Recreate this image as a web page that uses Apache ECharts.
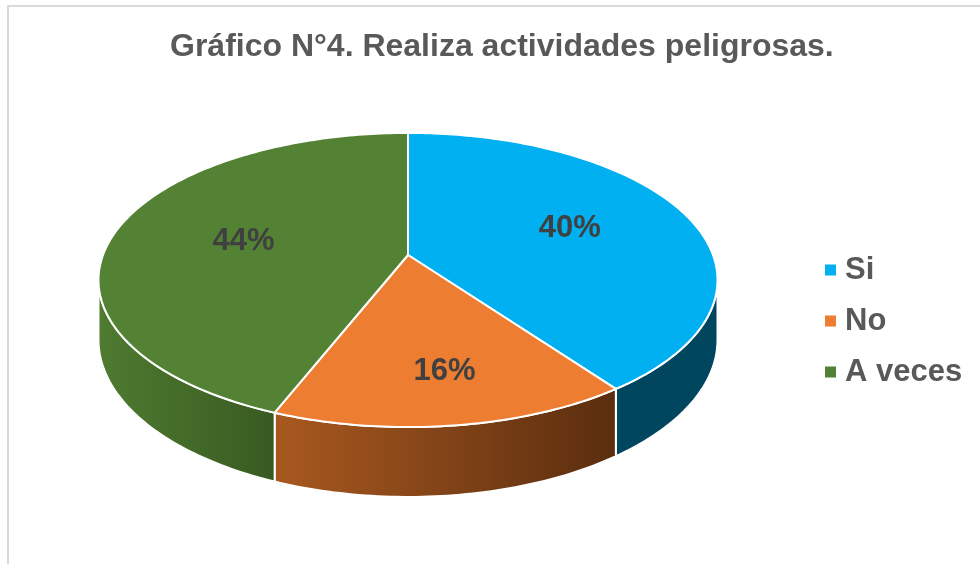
<!DOCTYPE html>
<html>
<head>
<meta charset="utf-8">
<title>Gráfico N°4</title>
<script src="https://cdn.jsdelivr.net/npm/echarts@6/dist/echarts.min.js"></script>
<style>
  html, body { margin: 0; padding: 0; background: #fff; }
  #chart { width: 980px; height: 564px; }
</style>
</head>
<body>
<div id="chart"></div>
<script>
  // datos del gráfico
  const categories = ['Si', 'No', 'A veces'];
  const values = [40, 16, 44];
  const topColors = ['#00B0F0', '#ED7D31', '#548235'];
  const sideColors = [['#00465F', '#00465F'], ['#A9591F', '#5A2D0F'], ['#4F7B30', '#385A21']];

  // geometría del pastel 3D (perspectiva simple)
  const CX = 408, CY = 255;     // vértice del pastel
  const RX = 305, RY = 142.8;   // radios proyectados
  const K = 0.17;               // factor de perspectiva
  const H = 58;                 // altura del borde
  const total = values.reduce((a, b) => a + b, 0);

  function proj(r, th, dz) {
    let u = r * Math.sin(th), v = -r * Math.cos(th);
    let s = 1 / (1 - K * v);
    return [CX + RX * u * s, CY + (RY * v + dz) * s];
  }

  function arc(a0, a1, dz) {
    let pts = [];
    let n = Math.max(2, Math.ceil((a1 - a0) / (Math.PI / 180)));
    for (let j = 0; j <= n; j++) {
      pts.push(proj(1, a0 + (a1 - a0) * j / n, dz));
    }
    return pts;
  }

  function renderSlice(params, api) {
    let i = params.seriesIndex;
    let before = values.slice(0, i).reduce((a, b) => a + b, 0);
    let val = api.value(0);
    let a0 = before / total * Math.PI * 2;
    let a1 = a0 + val / total * Math.PI * 2;
    let children = [];

    // borde lateral visible (frente)
    let thL = Math.acos(-K), thR = Math.PI * 2 - thL;
    let w0 = Math.max(a0, thL), w1 = Math.min(a1, thR);
    if (w1 > w0) {
      let topEdge = arc(w0, w1, 0);
      let botEdge = arc(w0, w1, H).reverse();
      children.push({
        type: 'polygon',
        shape: { points: topEdge.concat(botEdge) },
        style: {
          fill: {
            type: 'linear', x: 0, y: 0, x2: 1, y2: 0,
            colorStops: [{ offset: 0, color: sideColors[i][0] }, { offset: 1, color: sideColors[i][1] }]
          },
          stroke: '#fff',
          lineWidth: 2
        }
      });
    }

    // cara superior
    children.push({
      type: 'polygon',
      shape: { points: [[CX, CY]].concat(arc(a0, a1, 0)) },
      style: { fill: topColors[i], stroke: '#fff', lineWidth: 2, lineJoin: 'round' }
    });

    // etiqueta de porcentaje
    let frac = val / total;
    let lp = proj(0.82 - 0.6 * frac, (a0 + a1) / 2 - 0.02, 0);
    children.push({
      type: 'text',
      x: lp[0],
      y: lp[1],
      style: {
        text: Math.round(frac * 100) + '%',
        fill: '#404040',
        font: 'bold 31px "Liberation Sans", Arial, sans-serif',
        align: 'center',
        verticalAlign: 'middle'
      }
    });

    return { type: 'group', children: children };
  }

  let myChart = echarts.init(document.getElementById('chart'));

  let option = {
    animation: false,
    title: {
      text: 'Gráfico N°4. Realiza actividades peligrosas.',
      left: 170,
      top: 31,
      padding: 0,
      textStyle: {
        color: '#595959',
        fontSize: 32,
        fontWeight: 'bold',
        fontFamily: '"Liberation Sans", Arial, sans-serif'
      }
    },
    legend: {
      orient: 'vertical',
      left: 825,
      top: 250,
      padding: 0,
      icon: 'rect',
      itemWidth: 11,
      itemHeight: 11,
      itemGap: 11,
      selectedMode: false,
      textStyle: {
        color: '#595959',
        fontSize: 31,
        fontWeight: 'bold',
        fontFamily: '"Liberation Sans", Arial, sans-serif',
        lineHeight: 40,
        padding: [0, 0, 0, 4]
      },
      data: categories
    },
    graphic: [{
      type: 'rect',
      silent: true,
      shape: { x: 8, y: 6, width: 1000, height: 600 },
      style: { fill: 'none', stroke: '#D9D9D9', lineWidth: 2 }
    }],
    series: categories.map((name, i) => ({
      type: 'custom',
      name: name,
      coordinateSystem: 'none',
      itemStyle: { color: topColors[i] },
      renderItem: renderSlice,
      data: [[values[i]]]
    }))
  };

  myChart.setOption(option);

  window.addEventListener('resize', () => {
    myChart.resize();
  });
</script>
</body>
</html>
